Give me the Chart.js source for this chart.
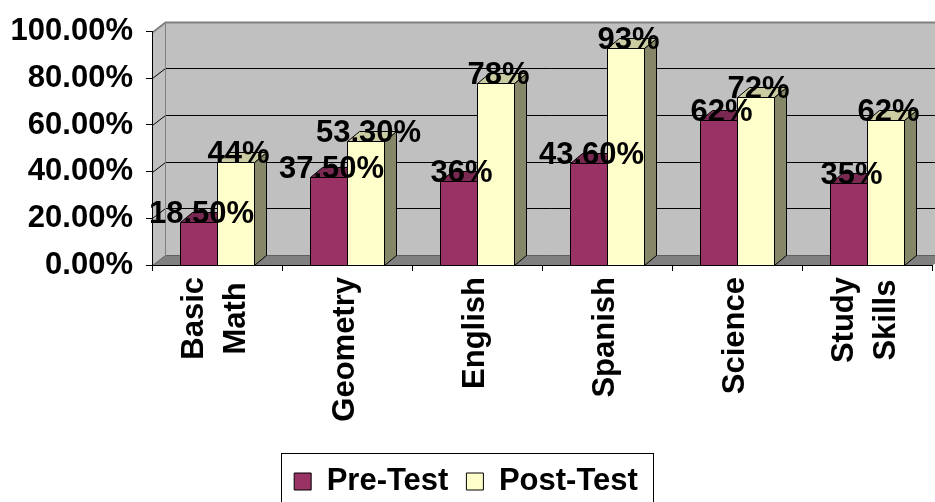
<!DOCTYPE html>
<html><head><meta charset="utf-8">
<script src="https://cdn.jsdelivr.net/npm/chart.js@4.4.1/dist/chart.umd.min.js"></script>
<style>html,body{margin:0;padding:0;background:#fff;overflow:hidden}</style>
</head><body>
<canvas id="c" width="935" height="502"></canvas>
<script>
const categories = [['Basic','Math'], 'Geometry', 'English', 'Spanish', 'Science', ['Study','Skills']];
const preTest = [18.5, 37.5, 36, 43.6, 62, 35];
const postTest = [44, 53.3, 78, 93, 72, 62];
const preLabels = ['18.50%', '37.50%', '36%', '43.60%', '62%', '35%'];
const postLabels = ['44%', '53.30%', '78%', '93%', '72%', '62%'];
const yTicks = [0, 20, 40, 60, 80, 100];

const FONT = "'Liberation Sans', Arial, sans-serif";
const WALL_DX = 13, WALL_DY = 10;
const BAR_DX = 12, BAR_DY = 10;
const faces = [
  {front: '#993366', top: '#7A2952', side: '#5C1F3D'},
  {front: '#FFFFCC', top: '#CCCCA3', side: '#868669'}
];

function poly(ctx, pts, fill, stroke) {
  ctx.beginPath();
  ctx.moveTo(pts[0][0], pts[0][1]);
  for (let i = 1; i < pts.length; i++) ctx.lineTo(pts[i][0], pts[i][1]);
  ctx.closePath();
  if (fill) { ctx.fillStyle = fill; ctx.fill(); }
  if (stroke) { ctx.strokeStyle = stroke; ctx.lineWidth = 1; ctx.stroke(); }
}

const threeD = {
  id: 'threeD',
  beforeDraw(chart) {
    const ctx = chart.ctx;
    const {left, right, top, bottom} = chart.chartArea;
    const ys = chart.scales.y;
    const L = left + 0.5, R = right + 0.5, T = Math.round(top) + 0.5, B = Math.round(bottom) + 0.5;
    ctx.save();
    poly(ctx, [[L, T], [L + WALL_DX, T - WALL_DY], [L + WALL_DX, B - WALL_DY], [L, B]], '#C0C0C0', null);
    poly(ctx, [[L + WALL_DX, T - WALL_DY], [R + WALL_DX, T - WALL_DY], [R + WALL_DX, B - WALL_DY], [L + WALL_DX, B - WALL_DY]], '#C0C0C0', null);
    poly(ctx, [[L, B], [R, B], [R + WALL_DX, B - WALL_DY], [L + WALL_DX, B - WALL_DY]], '#808080', null);
    yTicks.forEach(v => {
      const y = Math.round(ys.getPixelForValue(v)) + 0.5;
      ctx.beginPath();
      ctx.moveTo(L, y);
      ctx.lineTo(L + WALL_DX, y - WALL_DY);
      ctx.lineTo(R + WALL_DX, y - WALL_DY);
      ctx.strokeStyle = (v === 100) ? '#808080' : (v === 0 ? '#606060' : '#000');
      ctx.lineWidth = (v === 100) ? 2 : 1;
      ctx.stroke();
    });
    ctx.beginPath();
    ctx.moveTo(L + WALL_DX, T - WALL_DY);
    ctx.lineTo(L + WALL_DX, B - WALL_DY);
    ctx.strokeStyle = '#808080';
    ctx.lineWidth = 1;
    ctx.stroke();
    ctx.restore();
  },
  beforeDatasetsDraw(chart) {
    const ctx = chart.ctx;
    ctx.save();
    const metas = [chart.getDatasetMeta(0), chart.getDatasetMeta(1)];
    for (let i = 0; i < categories.length; i++) {
      metas.forEach((m, d) => {
        const el = m.data[i];
        const c = faces[d];
        const L = Math.round(el.x - el.width / 2) + 0.5;
        const R = Math.round(el.x + el.width / 2) + 0.5;
        const T = Math.round(el.y) + 0.5;
        const B = Math.round(el.base) + 0.5;
        poly(ctx, [[R, T], [R + BAR_DX, T - BAR_DY], [R + BAR_DX, B - BAR_DY], [R, B]], c.side, '#000');
        poly(ctx, [[L, T], [L + BAR_DX, T - BAR_DY], [R + BAR_DX, T - BAR_DY], [R, T]], c.top, '#000');
        poly(ctx, [[L, T], [R, T], [R, B], [L, B]], c.front, '#000');
      });
    }
    ctx.restore();
    return false;
  },
  afterDraw(chart) {
    const ctx = chart.ctx;
    const xs = chart.scales.x;
    const bottom = chart.chartArea.bottom;
    ctx.save();
    ctx.fillStyle = '#000';
    ctx.font = 'bold 31px ' + FONT;
    ctx.textAlign = 'center';
    ctx.textBaseline = 'alphabetic';
    const labelSets = [preLabels, postLabels];
    [0, 1].forEach(d => {
      const m = chart.getDatasetMeta(d);
      m.data.forEach((el, i) => {
        ctx.fillText(labelSets[d][i], el.x + 3, el.y + 1);
      });
    });
    ctx.font = 'bold 31px ' + FONT;
    ctx.textBaseline = 'middle';
    ctx.textAlign = 'center';
    categories.forEach((cat, i) => {
      const lines = Array.isArray(cat) ? cat : [cat];
      const cx = xs.getPixelForValue(i) - 2;
      let maxW = 0;
      lines.forEach(t => { maxW = Math.max(maxW, ctx.measureText(t).width); });
      const yc = bottom + 12 + maxW / 2;
      lines.forEach((t, k) => {
        const lx = cx + (k - (lines.length - 1) / 2) * 42;
        ctx.save();
        ctx.translate(lx, yc);
        ctx.rotate(-Math.PI / 2);
        ctx.fillText(t, 0, 0);
        ctx.restore();
      });
    });
    const lg = chart.legend;
    if (lg && lg.legendHitBoxes && lg.legendHitBoxes.length) {
      const hb = lg.legendHitBoxes;
      const l = Math.round(hb[0].left - 13) + 0.5;
      const last = hb[hb.length - 1];
      const r = Math.round(last.left + last.width + 15) + 0.5;
      const t = Math.round(lg.top + 5) + 0.5;
      ctx.strokeStyle = '#000';
      ctx.lineWidth = 1;
      ctx.strokeRect(l, t, r - l, 200);
    }
    ctx.restore();
  }
};

Chart.defaults.font.family = FONT;

new Chart(document.getElementById('c'), {
  type: 'bar',
  data: {
    labels: categories,
    datasets: [
      {label: 'Pre-Test', data: preTest, backgroundColor: faces[0].front, borderColor: '#000', borderWidth: 1,
       categoryPercentage: 0.57, barPercentage: 1.0},
      {label: 'Post-Test', data: postTest, backgroundColor: faces[1].front, borderColor: '#000', borderWidth: 1,
       categoryPercentage: 0.57, barPercentage: 1.0}
    ]
  },
  options: {
    responsive: false,
    animation: false,
    devicePixelRatio: 1,
    layout: {padding: {top: 24, right: 3, left: 0, bottom: -5}},
    plugins: {
      legend: {
        position: 'bottom',
        labels: {
          font: {size: 31, weight: 'bold', family: FONT},
          color: '#000',
          boxWidth: 17,
          boxHeight: 17,
          padding: 18
        }
      },
      tooltip: {enabled: false}
    },
    scales: {
      x: {
        grid: {display: true, drawOnChartArea: false, drawTicks: true, tickLength: 6, color: '#000', offset: true},
        border: {display: true, color: '#000', width: 1},
        ticks: {display: false},
        afterFit(s) { s.height = 183; }
      },
      y: {
        min: 0, max: 100,
        grid: {display: true, drawOnChartArea: false, drawTicks: true, tickLength: 6, color: '#000'},
        border: {display: true, color: '#000', width: 1},
        ticks: {
          stepSize: 20,
          padding: 13,
          color: '#000',
          font: {size: 31, weight: 'bold', family: FONT},
          callback: v => v.toFixed(2) + '%'
        },
        afterFit(s) { s.width = 152; }
      }
    }
  },
  plugins: [threeD]
});
</script>
</body></html>
